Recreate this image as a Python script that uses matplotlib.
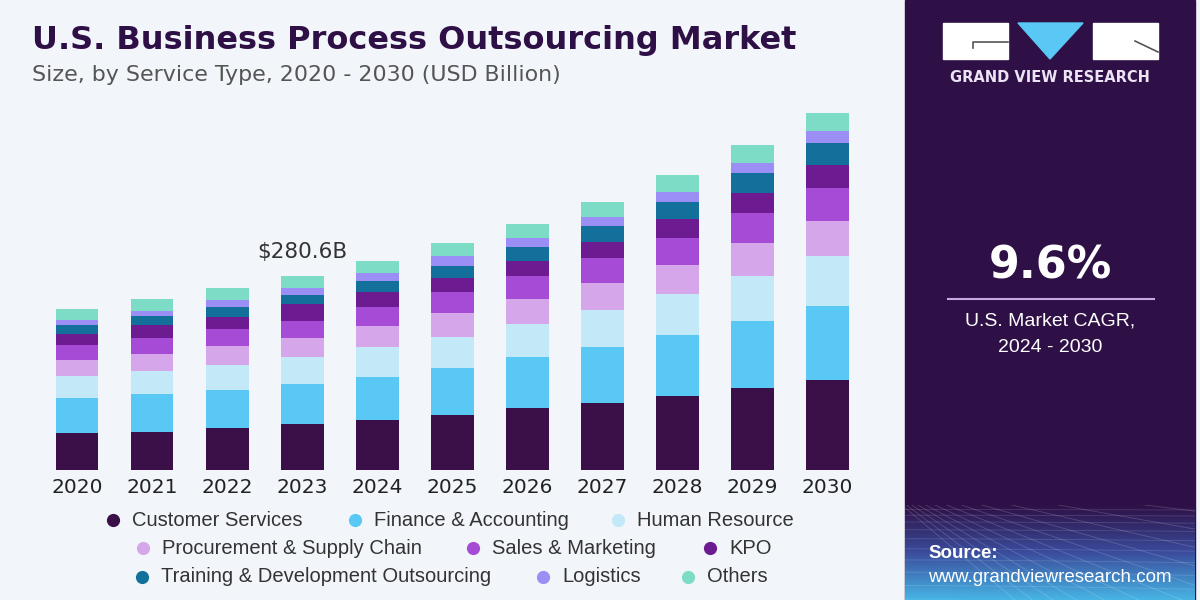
import numpy as np
import matplotlib.pyplot as plt
from matplotlib.colors import LinearSegmentedColormap
from matplotlib.patches import Rectangle, Polygon

# Values (USD Billion)
years = ['2020', '2021', '2022', '2023', '2024', '2025', '2026', '2027', '2028', '2029', '2030']
customer_services = [53.1, 55.4, 61.2, 66.3, 72.3, 79.5, 89.2, 97.3, 107.0, 118.1, 130.1]
finance_accounting = [51.5, 54.1, 54.5, 57.8, 62.2, 67.5, 73.7, 80.1, 88.2, 97.7, 107.0]
human_resource = [31.4, 34.1, 36.2, 39.9, 42.7, 45.7, 48.2, 53.9, 59.3, 64.6, 72.3]
procurement = [23.1, 24.1, 27.9, 26.6, 30.4, 33.8, 36.2, 38.6, 41.9, 47.3, 51.0]
sales_marketing = [21.7, 22.7, 23.7, 25.4, 28.2, 31.2, 33.7, 37.0, 39.5, 43.4, 47.7]
kpo = [15.5, 19.2, 17.4, 24.1, 21.7, 19.4, 21.7, 23.1, 26.6, 29.8, 32.8]
training = [13.4, 13.0, 14.5, 13.0, 15.2, 17.8, 19.4, 23.1, 25.4, 28.1, 31.4]
logistics = [7.2, 7.7, 10.6, 10.1, 11.6, 14.5, 13.9, 13.0, 14.5, 15.3, 17.8]
others = [15.5, 16.9, 17.4, 17.4, 18.1, 18.4, 19.8, 21.7, 24.1, 25.6, 25.6]

labels = ['Customer Services', 'Finance & Accounting', 'Human Resource',
          'Procurement & Supply Chain', 'Sales & Marketing', 'KPO',
          'Training & Development Outsourcing', 'Logistics', 'Others']
series = [customer_services, finance_accounting, human_resource, procurement,
          sales_marketing, kpo, training, logistics, others]
colors = ['#3b0f47', '#5ac8f4', '#c3e8f8', '#d6a6ea', '#a64bd5',
          '#6c1b91', '#12709a', '#9b8ef5', '#7cdcc5']

highlight_year = '2023'
highlight_label = r'\$280.6B'
cagr = '9.6%'

bg = '#f2f6fb'
dark = '#2e1046'

fig = plt.figure(figsize=(12, 6), dpi=100)
fig.patch.set_facecolor(bg)

# main bar chart
ax = fig.add_axes([0.0329, 0.2167, 0.688, 0.6167])
x = np.arange(len(years))
bottom = np.zeros(len(years))
for vals, col, lab in zip(series, colors, labels):
    ax.bar(x, vals, 0.57, bottom=bottom, color=col, linewidth=0, label=lab)
    bottom += np.array(vals)

ax.set_xlim(-0.5, len(years) - 0.5)
ax.set_ylim(0, 535)
ax.set_facecolor('none')
for s in ax.spines.values():
    s.set_visible(False)
ax.set_yticks([])
ax.set_xticks(x, years)
ax.tick_params(axis='x', length=0, pad=6, labelsize=14.5, labelcolor='#222222')

i = years.index(highlight_year)
ax.annotate(highlight_label, (x[i], bottom[i]), xytext=(0, 10), textcoords='offset points',
            ha='center', va='bottom', fontsize=15.5, color='#333333')

# titles
fig.text(32 / 1200, 1 - 40 / 600, 'U.S. Business Process Outsourcing Market',
         fontsize=23, fontweight='bold', color=dark, va='center')
fig.text(32 / 1200, 1 - 75 / 600, 'Size, by Service Type, 2020 - 2030 (USD Billion)',
         fontsize=15.9, color='#555555', va='center')

# decoration layer in pixel coords
deco = fig.add_axes([0, 0, 1, 1])
deco.set_xlim(0, 1200)
deco.set_ylim(600, 0)
deco.axis('off')

# legend rows
legend_pos = [(113, 520), (355, 520), (618, 520),
              (143, 548), (473, 548), (710, 548),
              (142, 577), (543, 577), (688, 577)]
for (px, py), lab, col in zip(legend_pos, labels, colors):
    deco.plot(px, py, 'o', ms=9.5, color=col, mec='none')
    deco.text(px + 19, py, lab, va='center', ha='left', fontsize=14.5,
              family='Liberation Sans', color='#333333')

# right panel
deco.add_patch(Rectangle((905, 0), 290, 600, color=dark, zorder=1))

# source box gradient
cmap = LinearSegmentedColormap.from_list('src', [dark, '#3a4c9c', '#47b4e4'])
grad = np.linspace(0, 1, 100).reshape(-1, 1)
box = Rectangle((905, 505), 290, 95, transform=deco.transData, facecolor='none')
deco.add_patch(box)
im = deco.imshow(grad, cmap=cmap, extent=(905, 1195, 600, 505), aspect='auto', zorder=2)
im.set_clip_path(box)
deco.set_xlim(0, 1200)
deco.set_ylim(600, 0)

vx, vy = 860, 470
for ang in np.linspace(-5, 40, 16):
    t = np.radians(ang)
    xs = np.array([vx, vx + 600 * np.cos(t)])
    ys = np.array([vy, vy + 600 * np.sin(t)])
    ln, = deco.plot(xs, ys, color='white', lw=0.6, alpha=0.18, zorder=3)
    ln.set_clip_path(box)
for k in range(1, 14):
    xx = np.linspace(905, 1195, 50)
    yy = 505 + k * k * 0.55 + 4 * k + 0.0006 * (xx - 905) ** 1.6 * (k / 13)
    ln, = deco.plot(xx, yy, color='white', lw=0.6, alpha=0.15, zorder=3)
    ln.set_clip_path(box)

# logo
deco.add_patch(Rectangle((943, 23), 65, 36, color='white', zorder=4))
deco.add_patch(Rectangle((1093, 23), 65, 36, color='white', zorder=4))
deco.add_patch(Polygon([(1018, 23), (1083, 23), (1050, 59)], closed=True, color='#5ac8f4', zorder=4))
deco.plot([973, 973, 1008], [48, 42, 42], color='#555555', lw=1.2, zorder=5)
deco.plot([1135, 1158], [41, 52], color='#555555', lw=1.2, zorder=5)
deco.text(1050, 78, 'GRAND VIEW RESEARCH', ha='center', va='center', fontsize=10.5,
          fontweight='bold', color='#ece4f4', zorder=5)

# CAGR block
deco.text(1050, 266, cagr, ha='center', va='center', fontsize=32, fontweight='bold',
          color='white', zorder=5)
deco.plot([948, 1154], [299, 299], color='#c9a8e0', lw=1.5, zorder=5)
deco.text(1050, 321, 'U.S. Market CAGR,', ha='center', va='center', fontsize=14,
          family='Liberation Sans', color='white', zorder=5)
deco.text(1050, 348, '2024 - 2030', ha='center', va='center', fontsize=14,
          family='Liberation Sans', color='white', zorder=5)

deco.text(928, 553, 'Source:', ha='left', va='center', fontsize=13.5, fontweight='bold',
          family='Liberation Sans', color='white', zorder=5)
deco.text(928, 577, 'www.grandviewresearch.com', ha='left', va='center', fontsize=13.5,
          family='Liberation Sans', color='white', zorder=5)

fig.savefig('out.png', dpi=100, facecolor=fig.get_facecolor())
